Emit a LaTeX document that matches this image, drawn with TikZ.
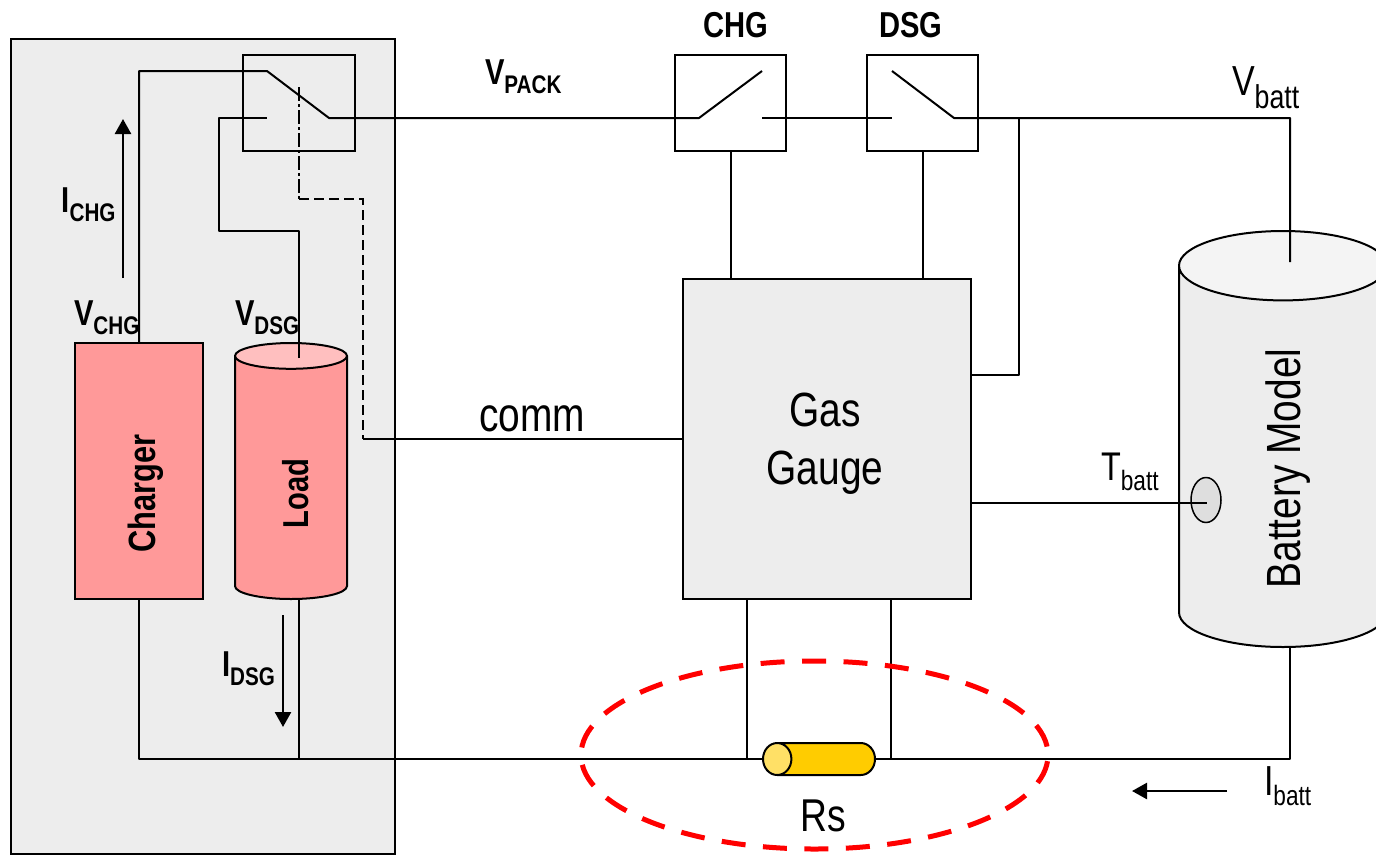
\documentclass[tikz,border=0pt]{standalone}
\usepackage{fontspec}
\setmainfont{Liberation Sans}[FakeStretch=0.81]
\usepackage{xcolor}
\usepackage{tikz}
\usetikzlibrary{shapes.geometric, arrows.meta, positioning, calc}

\definecolor{panelgray}{HTML}{EDEDED}
\definecolor{sourcered}{HTML}{FF9999}
\definecolor{sourcetop}{HTML}{FFBFBF}
\definecolor{shuntgold}{HTML}{FFCC00}
\definecolor{shuntend}{HTML}{FFE066}
\newcommand{\bigtxt}{\fontsize{48}{58}\selectfont}
\newcommand{\boldtxt}{\fontsize{36}{40}\selectfont\bfseries}
\newcommand{\boldsub}[1]{\raisebox{-9pt}{\fontsize{25.5}{26}\selectfont\bfseries #1}}
\newcommand{\plainsub}[3]{\raisebox{-#1pt}{\fontsize{#2}{#2}\selectfont #3}}
\newcommand{\canstrut}{\rule{0pt}{20pt}}

\begin{document}
\begin{tikzpicture}[
        x=1pt, y=-1pt,
        node distance=81pt,
        box/.style={rectangle, draw, line width=2pt, inner sep=0pt, outer sep=0pt, align=center},
        switchbox/.style={box, minimum width=111pt, minimum height=96pt},
        can/.style={cylinder, draw, line width=2pt, inner sep=0pt, outer sep=0pt, anchor=shape center, cylinder uses custom fill},
        wire/.style={line width=2pt, line join=round},
        flow/.style={-{Triangle[width=16pt,length=15pt]}, line width=2.5pt},
        tag/.style={inner sep=0pt, outer sep=0pt, anchor=base west},
        sidetag/.style={inner sep=0pt, outer sep=0pt, anchor=base, rotate=90}
    ]
    \useasboundingbox (0,0) rectangle (1376,855);

    \node (panel) [box, fill=panelgray, minimum width=384pt, minimum height=815pt] at (203,446.5) {};
    \node (sel) [switchbox, minimum width=112pt] at (299,103) {};
    \node (chg) [switchbox] at (730.5,103) {};
    \node (dsg) [switchbox, right=of chg] {};
    \node (gauge) [box, fill=panelgray, minimum width=288pt, minimum height=320pt] at (827,439) {};
    \node (charger) [box, fill=sourcered, minimum width=128pt, minimum height=256pt] at (139,471) {};
    \node (load) [can, rotate=90, cylinder body fill=sourcered, cylinder end fill=sourcetop, minimum width=112pt, minimum height=256pt, aspect=1.29] at (291,471) {\canstrut};
    \node (battery) [can, rotate=90, cylinder body fill=panelgray, cylinder end fill=panelgray!60!white, minimum width=208pt, minimum height=416pt, aspect=3.47] at (1283,439) {\canstrut};
    \node (sensor) [ellipse, draw, line width=1.5pt, fill=black!13, inner sep=0pt, minimum width=30pt, minimum height=45pt] at (1206,500) {};

    % switch contacts
    \coordinate (selA) at (267,71);
    \coordinate (selB) at (267,118);
    \coordinate (selC) at (329,118);
    \coordinate (chgA) at (699,118);
    \coordinate (chgB) at (762,71);
    \coordinate (chgC) at (762,118);
    \coordinate (dsgA) at (892,118);
    \coordinate (dsgB) at (892,71);
    \coordinate (dsgC) at (954,118);
    \coordinate (battP) at (1290,262);
    \coordinate (battN) at (1290,647);
    \coordinate (loadP) at (299,358);
    \coordinate (loadN) at (299,599);
    \coordinate (ctrl) at (299,87);
    \coordinate (ctrlA) at (299,199);
    \coordinate (ctrlB) at (363,199);
    \coordinate (ctrlC) at (363,439);
    \coordinate (tap) at (1019,118);
    \coordinate (gaugeP) at (971,375);
    \coordinate (gaugeT) at (971,503);
    \coordinate (sensorT) at (1207,503);
    \coordinate (senseA) at (747,599);
    \coordinate (senseB) at (891,599);
    \coordinate (railM) at (299,759);
    \coordinate (railA) at (747,759);
    \coordinate (railB) at (891,759);
    \coordinate (railR) at (1290,759);

    % power path
    \draw[wire] (charger.north) |- (selA) -- (selC) -- (chgA) -- (chgB);
    \draw[wire] (chgC) -- (dsgA);
    \draw[wire] (dsgB) -- (dsgC) -| (battP);
    \draw[wire] (loadP) |- (219,231) |- (selB);
    \draw[wire] (tap) |- (gaugeP);
    \draw[wire] (chg.south) -- (chg.south |- gauge.north);
    \draw[wire] (dsg.south) -- (dsg.south |- gauge.north);
    \draw[wire] (gaugeT) -- (sensorT);
    \draw[wire] (charger.south) |- (railR) -- (battN);
    \draw[wire] (loadN) -- (railM);
    \draw[wire] (senseA) -- (railA);
    \draw[wire] (senseB) -- (railB);

    % control line
    \draw[line width=2pt, dash pattern=on 14pt off 3pt on 3pt off 3pt] (ctrl) -- (ctrlA);
    \draw[line width=2pt, dash pattern=on 10pt off 5pt] (ctrlA) -- (ctrlB) -- (ctrlC);
    \draw[wire] (ctrlC) -- (ctrlC -| gauge.west);

    \node (shunt) [can, rotate=180, cylinder body fill=shuntgold, cylinder end fill=shuntend, minimum width=32pt, minimum height=112pt, aspect=1.42] at (819,759) {\canstrut};
    \node (rsring) [ellipse, draw=red, line width=5pt, dash pattern=on 24pt off 17.5pt, dash phase=33pt, minimum width=467pt, minimum height=188pt, inner sep=0pt] at (814.5,755) {};

    % current arrows
    \coordinate (ichgA) at (123,278);
    \coordinate (ichgB) at (123,119);
    \coordinate (idsgA) at (283,615);
    \coordinate (idsgB) at (283,727);
    \coordinate (ibattA) at (1227,791);
    \coordinate (ibattB) at (1132,791);
    \draw[flow] (ichgA) -- (ichgB);
    \draw[flow] (idsgA) -- (idsgB);
    \draw[flow] (ibattA) -- (ibattB);

    % labels
    \node (gaugename) [inner sep=0pt, align=center, font=\bigtxt] at (825,444) {Gas\\Gauge};
    \node (chargername) [sidetag] at (155.7,493.5) {\fontsize{38}{40}\selectfont\bfseries Charger};
    \node (loadname) [sidetag] at (308,493.5) {\boldtxt Load};
    \node (batteryname) [sidetag] at (1300,468.5) {\bigtxt Battery Model};
    \node (vpack) [tag] at (485,84.3) {\boldtxt V\boldsub{PACK}};
    \node (chgname) [tag] at (703,37) {\boldtxt CHG};
    \node (dsgname) [tag] at (879,37) {\boldtxt DSG};
    \node (ichgname) [tag] at (61.5,212) {\boldtxt I\boldsub{CHG}};
    \node (vchgname) [tag] at (74,325) {\boldtxt V\boldsub{CHG}};
    \node (vdsgname) [tag] at (235,325) {\boldtxt V\boldsub{DSG}};
    \node (idsgname) [tag] at (222,676) {\boldtxt I\boldsub{DSG}};
    \node (commname) [tag] at (479,431) {\bigtxt comm};
    \node (rsname) [tag] at (800.7,831.7) {\fontsize{46}{46}\selectfont Rs};
    \node (vbattname) [tag] at (1232,95) {\fontsize{42}{42}\selectfont V\plainsub{13}{33}{batt}};
    \node (tbattname) [tag] at (1101,480) {\fontsize{40}{40}\selectfont T\plainsub{10}{28}{batt}};
    \node (ibattname) [tag] at (1264,795) {\fontsize{42}{42}\selectfont I\plainsub{10}{28}{batt}};
\end{tikzpicture}
\end{document}
